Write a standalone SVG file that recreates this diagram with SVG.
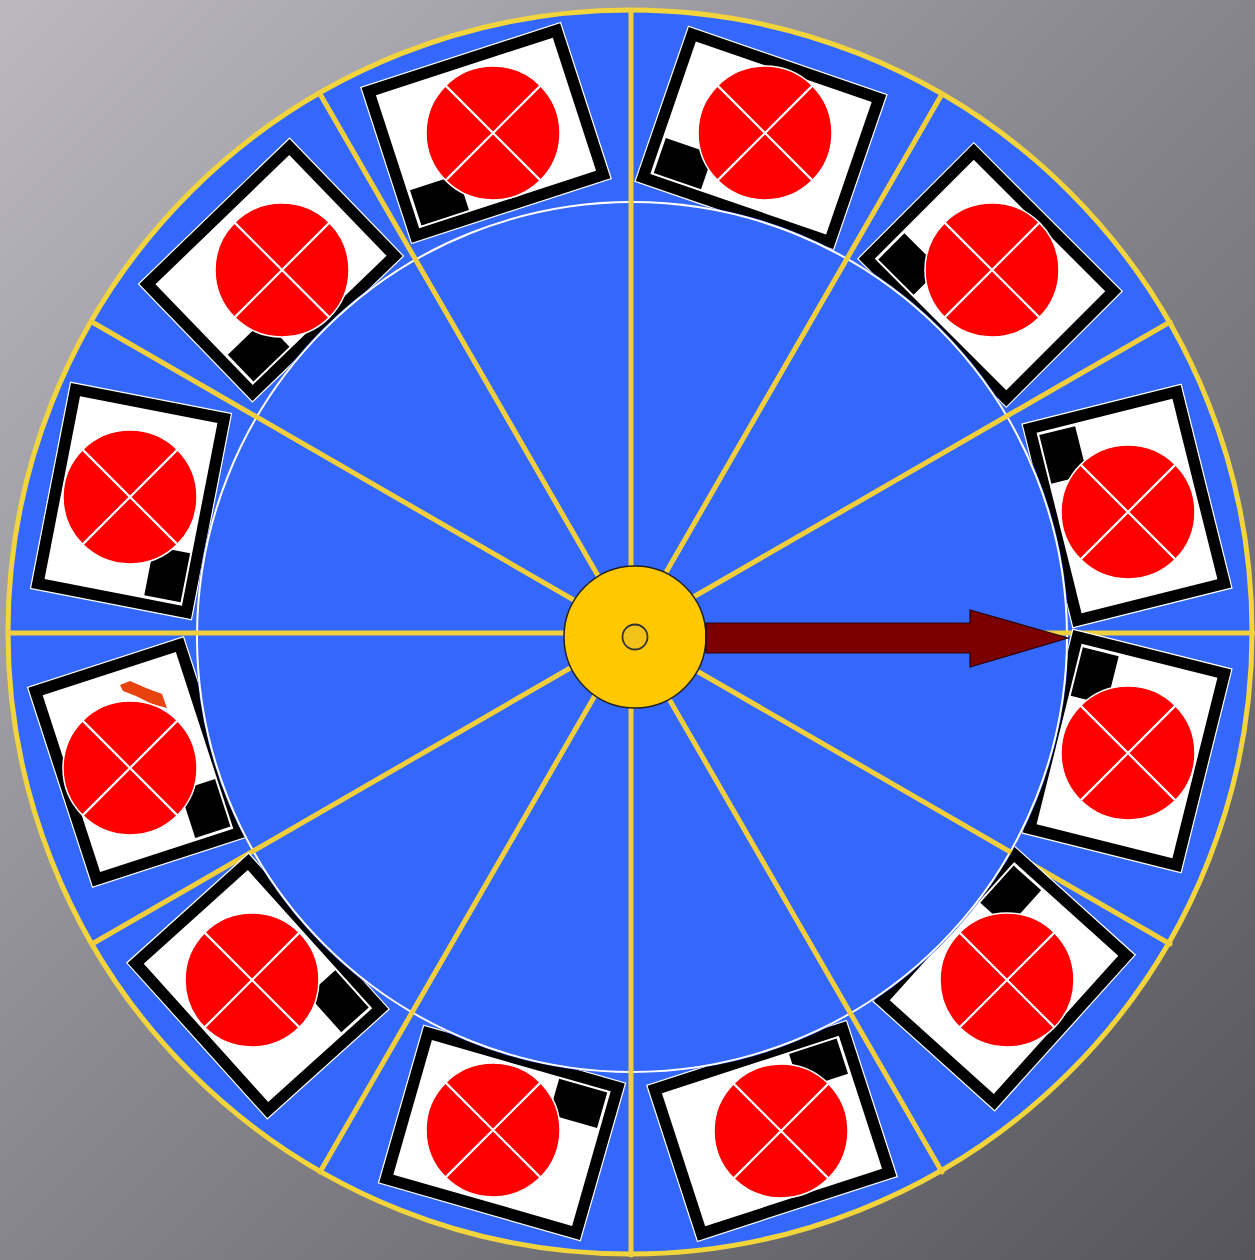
<svg xmlns="http://www.w3.org/2000/svg" xmlns:xlink="http://www.w3.org/1999/xlink" width="1255" height="1260" viewBox="0 0 1255 1260">
<style>
.spoke{stroke:#F0CE3C;stroke-width:5;stroke-linecap:round}
.xline{stroke:#fff;stroke-width:2.2}
</style>
<defs>
<linearGradient id="bg" x1="0" y1="0" x2="1" y2="1">
<stop offset="0" stop-color="#bbb9bf"/>
<stop offset="0.45" stop-color="#8c8a91"/>
<stop offset="1" stop-color="#56555b"/>
</linearGradient>
<mask id="ring" maskUnits="userSpaceOnUse" x="0" y="0" width="1255" height="1260">
<rect x="0" y="0" width="1255" height="1260" fill="#fff"/>
<circle cx="632" cy="637" r="436.5" fill="#000"/>
</mask>
<g id="cardBody">
<rect x="-105" y="-82" width="210" height="164" fill="#000" stroke="#fff" stroke-width="1.2"/>
<rect x="-93" y="-70" width="186" height="140" fill="#fff"/>
<rect x="-90" y="31" width="50" height="37" fill="#000"/>
</g>
<g id="token">
<circle r="67" fill="#FF0000" stroke="#fff" stroke-width="1.5"/>
<path class="xline" d="M-47.4,-47.4 L47.4,47.4 M47.4,-47.4 L-47.4,47.4"/>
</g>
</defs>
<rect width="1255" height="1260" fill="url(#bg)"/>
<g id="wheel">
<circle cx="630" cy="632" r="622" fill="#3468FC" stroke="#F2D43C" stroke-width="5"/>
<circle cx="632" cy="637" r="435" fill="#3468FC" stroke="#fff" stroke-width="2"/>
</g>
<g id="spokes">
<line class="spoke" x1="631" y1="633" x2="631" y2="11"/>
<line class="spoke" x1="631" y1="633" x2="942" y2="94"/>
<line class="spoke" x1="631" y1="633" x2="1170" y2="322"/>
<line class="spoke" x1="631" y1="633" x2="1253" y2="633"/>
<line class="spoke" x1="631" y1="633" x2="1170" y2="944"/>
<line class="spoke" x1="631" y1="633" x2="942" y2="1172"/>
<line class="spoke" x1="631" y1="633" x2="631" y2="1255"/>
<line class="spoke" x1="631" y1="633" x2="320" y2="1172"/>
<line class="spoke" x1="631" y1="633" x2="92" y2="944"/>
<line class="spoke" x1="631" y1="633" x2="9" y2="633"/>
<line class="spoke" x1="631" y1="633" x2="92" y2="322"/>
<line class="spoke" x1="631" y1="633" x2="320" y2="94"/>
</g>
<g id="card1"><g mask="url(#ring)"><use href="#cardBody" transform="translate(486,133) rotate(342)"/></g><use href="#token" x="493" y="133"/></g>
<g id="card2"><g mask="url(#ring)"><use href="#cardBody" transform="translate(761,138) rotate(19)"/></g><use href="#token" x="765" y="133"/></g>
<g id="card3"><g mask="url(#ring)"><use href="#cardBody" transform="translate(990,275) rotate(45)"/></g><use href="#token" x="992" y="270"/></g>
<g id="card4"><g mask="url(#ring)"><use href="#cardBody" transform="translate(1127,506) rotate(76)"/></g><use href="#token" x="1128" y="512"/></g>
<g id="card5"><g mask="url(#ring)"><use href="#cardBody" transform="translate(1127,751) rotate(104)"/></g><use href="#token" x="1128" y="753"/></g>
<g id="card6"><g mask="url(#ring)"><use href="#cardBody" transform="translate(1004,978) rotate(132)"/></g><use href="#token" x="1007" y="980"/></g>
<g id="card7"><g mask="url(#ring)"><use href="#cardBody" transform="translate(772,1131) rotate(162)"/></g><use href="#token" x="781" y="1131"/></g>
<g id="card8"><g mask="url(#ring)"><use href="#cardBody" transform="translate(502,1133) rotate(196)"/></g><use href="#token" x="493" y="1130"/></g>
<g id="card9"><g mask="url(#ring)"><use href="#cardBody" transform="translate(258,986) rotate(228)"/></g><use href="#token" x="252" y="980"/></g>
<g id="card10"><g mask="url(#ring)"><use href="#cardBody" transform="translate(138,762) rotate(252)"/></g><path d="M120,685 L130,681 L146,688 L162,694 L167,708 L152,704 L136,696 L123,691 Z" fill="#E8420E"/><use href="#token" x="130" y="768"/></g>
<g id="card11"><g mask="url(#ring)"><use href="#cardBody" transform="translate(131,501) rotate(281)"/></g><use href="#token" x="130" y="497"/></g>
<g id="card12"><g mask="url(#ring)"><use href="#cardBody" transform="translate(271,270) rotate(316)"/></g><use href="#token" x="282" y="270"/></g>
<g id="hub">
<circle cx="635" cy="637" r="71" fill="#FFC800" stroke="#222" stroke-width="1.5"/>
<circle cx="635" cy="637" r="12.5" fill="#F3C21A" stroke="#333" stroke-width="1.8"/>
</g>
<g id="pointer">
<path d="M706,623 L970,623 L970,610 L1068,638 L970,667 L970,653 L706,653 Z" fill="#7B0000" stroke="#2a0000" stroke-width="1.2"/>
</g>
</svg>
